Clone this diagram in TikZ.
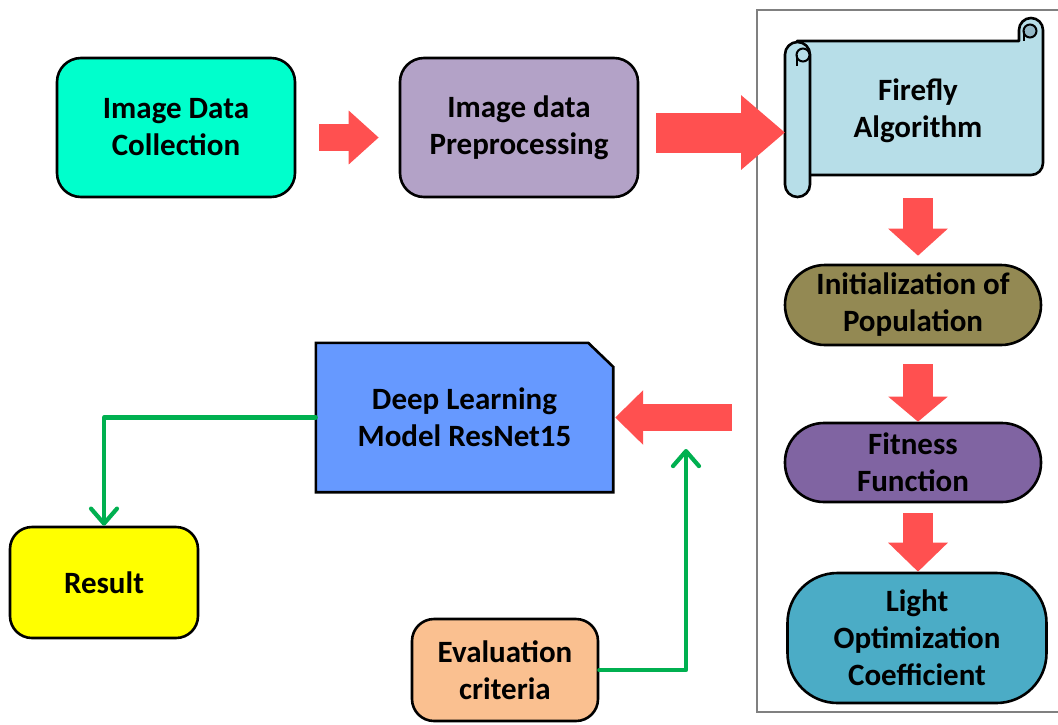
\documentclass[tikz,border=0pt]{standalone}
\usepackage{fontspec}
\setmainfont{Carlito}
\usetikzlibrary{arrows.meta,backgrounds}
\pgfdeclarelayer{bgzero}
\pgfsetlayers{bgzero,background,main}
\definecolor{cCollect}{HTML}{00FFCC}
\definecolor{cPre}{HTML}{B3A2C7}
\definecolor{cScroll}{HTML}{B7DEE8}
\definecolor{cCurl}{HTML}{93B8C6}
\definecolor{cInit}{HTML}{938953}
\definecolor{cFit}{HTML}{8064A2}
\definecolor{cLight}{HTML}{4BACC6}
\definecolor{cDL}{HTML}{6699FF}
\definecolor{cRes}{HTML}{FFFF00}
\definecolor{cEval}{HTML}{FAC090}
\definecolor{cRed}{HTML}{FF5050}
\definecolor{cGreen}{HTML}{00B050}
\definecolor{cPanel}{HTML}{808080}
\tikzset{
  lbl/.style={font=\bfseries\fontsize{31}{37}\selectfont, align=center, text=black},
  procbox/.style={lbl, draw=black, line width=2.6pt, rounded corners=24pt, inner sep=0pt},
  stadium/.style={lbl, draw=black, line width=2.6pt, inner sep=0pt},
  redarrow/.style={draw=cRed, line cap=butt},
  greenline/.style={draw=cGreen, line width=4.2pt, line cap=round, line join=round,
     -{Straight Barb[length=15pt,width=26pt,line cap=round,line join=round]}},
  scroll/.style={fill=cScroll, draw=black, line width=2.6pt, line join=round},
}
\begin{document}
\begin{tikzpicture}[x=1pt,y=-1pt]
\useasboundingbox (0,0) rectangle (1058,724);
\begin{pgfonlayer}{bgzero}
\fill[white] (0,0) rectangle (1058,724);
\end{pgfonlayer}

% panel
\draw[cPanel, line width=1.2pt] (1060,10) -- (757,10) -- (757,712) -- (1060,712);

% top row boxes
\node[procbox, fill=cCollect, minimum width=238pt, minimum height=139pt] (col) at (176,127.5) {Image Data\\Collection};
\node[procbox, fill=cPre, minimum width=238pt, minimum height=139pt] (pre) at (519,127.5) {Image data\\Preprocessing};

% scroll (Firefly Algorithm)
\draw[scroll] (797,41) -- (1019,41) -- (1019,30) arc[start angle=180, end angle=360, radius=12]
   -- (1043,163) arc[start angle=0, end angle=90, radius=12] -- (797,175) -- cycle;
\fill[cCurl, draw=black, line width=2pt] (1030,31) circle[radius=6.5];
\draw[black, line width=2pt] (1023.5,31) -- (1023.5,41);
\draw[scroll, rounded corners=12.5pt] (785,42) rectangle (810,197);
\draw[black, line width=2pt, fill=cScroll] (803,55) circle[radius=6.5];
\draw[black, line width=2pt] (796.5,55) -- (796.5,66);
\node[lbl, minimum width=240pt, minimum height=130pt] (ff) at (918,111) {Firefly\\Algorithm};

% right column
\node[stadium, fill=cInit, rounded corners=40pt, minimum width=256pt, minimum height=80pt] (init) at (913,305) {Initialization of\\Population};
\node[stadium, fill=cFit, rounded corners=39pt, minimum width=256pt, minimum height=79pt] (fit) at (913,462.5) {Fitness\\Function};
\node[stadium, fill=cLight, rounded corners=50pt, minimum width=259pt, minimum height=130pt] (light) at (917,638) {Light\\Optimization\\Coefficient};

% deep learning model (snipped corner)
\node[lbl, inner sep=0pt, minimum width=297pt, minimum height=149pt] (dl) at (464.5,417.5) {Deep Learning\\Model ResNet15};
\begin{scope}[on background layer]
\draw[draw=black, line width=2.6pt, fill=cDL, line join=miter]
  (dl.south west) -- (dl.north west) -- ([xshift=-25pt]dl.north east)
  -- ([yshift=-24pt]dl.north east) -- (dl.south east) -- cycle;
\end{scope}

% result and evaluation
\node[procbox, fill=cRes, rounded corners=22pt, minimum width=188pt, minimum height=111pt] (res) at (104,582.5) {Result};
\node[procbox, fill=cEval, rounded corners=22pt, minimum width=186pt, minimum height=102pt] (ev) at (505,670) {Evaluation\\criteria};

% red block arrows
\draw[redarrow, line width=27pt, -{Triangle[length=30pt,width=52pt]}]
  ([shift={(23,10)}]col.east) -- ([shift={(-20,10)}]pre.west);
\draw[redarrow, line width=40pt, -{Triangle[length=44pt,width=72pt]}]
  ([shift={(17,5)}]pre.east) -- (785,132.5);
\draw[redarrow, line width=30pt, -{Triangle[length=27pt,width=58pt]}]
  (918,198) -- ([yshift=8pt]init.north -| 918,0);
\draw[redarrow, line width=30pt, -{Triangle[length=25pt,width=58pt]}]
  ([yshift=-18pt]init.south -| 918,0) -- (fit.north -| 918,0);
\draw[redarrow, line width=30pt, -{Triangle[length=29pt,width=58pt]}]
  ([yshift=-10pt]fit.south -| 918,0) -- (light.north -| 918,0);
\draw[redarrow, line width=27pt, -{Triangle[length=28pt,width=53pt]}]
  ([xshift=-52pt]init.west |- dl.east) -- ([xshift=2pt]dl.east);

% green connectors
\coordinate (evin) at (686,449);
\draw[greenline] (dl.west) -| (res.north);
\draw[greenline] (ev.east) -| (evin);
\end{tikzpicture}
\end{document}
